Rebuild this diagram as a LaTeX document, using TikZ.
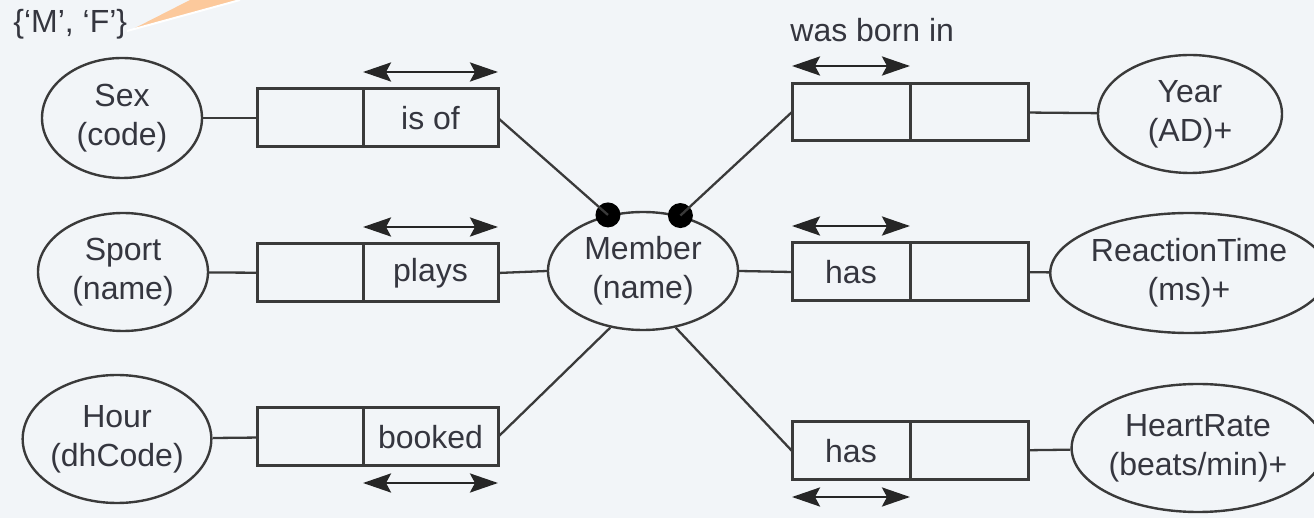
\documentclass[tikz,border=0pt]{standalone}
\usepackage{fontspec}
\setmainfont{Liberation Sans}
\usetikzlibrary{shapes.geometric,positioning,arrows.meta}

\definecolor{bg}{HTML}{F2F5F8}
\definecolor{ink}{HTML}{35363F}
\definecolor{line}{HTML}{3A3A3A}
\definecolor{peach}{HTML}{FCC99C}

\tikzset{
  attr/.style={ellipse, draw=line, line width=1.2pt, inner sep=0pt, align=center, text=ink},
  cell/.style={rectangle, draw=line, line width=1.5pt, inner sep=0pt, outer sep=0pt,
    minimum height=29pt, text=ink},
  link/.style={draw=line, line width=1.15pt},
  role/.style={{Stealth[length=14pt,width=9.5pt,inset=2.5pt]}-{Stealth[length=14pt,width=9.5pt,inset=2.5pt]},
    line width=1.4pt, draw=black!85},
  dot/.style={circle, fill=black, inner sep=0pt, minimum size=12.5pt}
}

\begin{document}
\begin{tikzpicture}[x=0.5pt, y=-0.5pt, font=\fontsize{16}{19.5}\selectfont]

\useasboundingbox (0,0) rectangle (1314,518);
\fill[bg] (0,0) rectangle (1314,518);

% value constraint callout
\coordinate (tip) at (133,29);
\fill[peach] (tip) -- (190,0) -- (240,0) -- cycle;
\draw[white, line width=1pt] (127,31) -- (240,0);
\node[anchor=base west, inner sep=0pt, text=ink] (mf) at (13,33) {\{‘M’, ‘F’\}};

% entity and value types
\node[attr, minimum width=80pt, minimum height=60pt] (sex) at (122,118) {Sex\\(code)};
\node[attr, minimum width=85pt, minimum height=59pt] (sport) at (123,272) {Sport\\(name)};
\node[attr, minimum width=84pt, minimum height=64pt] (hour) at (117,439) {Hour\\(dhCode)};
\node[attr, minimum width=95pt, minimum height=59pt] (member) at (643,271) {Member\\(name)};
\node[attr, minimum width=92pt, minimum height=59pt] (year) at (1190,114) {Year\\(AD)+};
\node[attr, minimum width=124pt, minimum height=60pt] (react) at (1189,273) {ReactionTime\\(ms)+};
\node[attr, minimum width=115pt, minimum height=64pt] (heart) at (1198,448) {HeartRate\\(beats/min)+};

% fact types, left
\node[cell, minimum width=53pt] (sexA) at (310,118) {};
\node[cell, minimum width=67.5pt, right=0pt of sexA] (isof) {is of};
\node[cell, minimum width=53pt] (sportA) at (310,273) {};
\node[cell, minimum width=67.5pt, right=0pt of sportA] (plays) {plays};
\node[cell, minimum width=53pt] (hourA) at (310,437) {};
\node[cell, minimum width=67.5pt, right=0pt of hourA] (booked) {booked};

% fact types, right
\node[cell, minimum width=59pt, minimum height=28.5pt] (bornA) at (851,112) {};
\node[cell, minimum width=59pt, minimum height=28.5pt, right=0pt of bornA] (bornB) {};
\node[cell, minimum width=59pt, minimum height=29pt] (hasA) at (851,272) {has};
\node[cell, minimum width=59pt, minimum height=29pt, right=0pt of hasA] (hasAB) {};
\node[cell, minimum width=59pt, minimum height=29pt] (hasB) at (851,451) {has};
\node[cell, minimum width=59pt, minimum height=29pt, right=0pt of hasB] (hasBB) {};

\node[anchor=base west, inner sep=0pt, text=ink] (born) at (790,42) {was born in};

% mandatory role dots
\node[dot] (d1) at (member.122) {};
\node[dot] (d2) at (member.56) {};

\draw[link] (sex) -- (sexA);
\draw[link] (sport) -- (sportA);
\draw[link] (hour) -- (hourA);
\draw[link] (isof.east) -- (d1.center);
\draw[link] (plays.east) -- (member.west);
\draw[link] (booked.east) -- (member.240);
\draw[link] (d2.center) -- (bornA.west);
\draw[link] (member.east) -- (hasA.west);
\draw[link] (member.300) -- (hasB.west);
\draw[link] (bornB) -- (year);
\draw[link] (hasAB) -- (react);
\draw[link] (hasBB) -- (heart);

% uniqueness arrows
\foreach \r/\s in {isof/1, plays/1, booked/-1, bornA/1, hasA/1, hasB/-1}
{
  \draw[role] ([yshift=\s*23pt]\r.west) -- ([yshift=\s*23pt]\r.east);
}

\end{tikzpicture}
\end{document}
